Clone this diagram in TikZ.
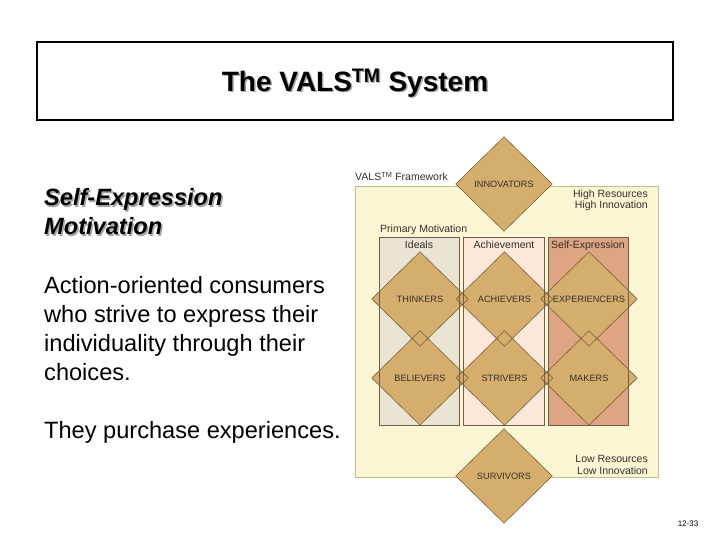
\documentclass[tikz,border=0pt]{standalone}
\usepackage{fontspec}
\setmainfont{Liberation Sans}
\usetikzlibrary{shapes.geometric,positioning}

\definecolor{cream}{HTML}{FAF6D3}
\definecolor{creamline}{HTML}{C9BA8C}
\definecolor{ideals}{HTML}{E9E5D2}
\definecolor{achieve}{HTML}{FCE7D9}
\definecolor{selfexp}{HTML}{DEA583}
\definecolor{colline}{HTML}{6E5D4A}
\definecolor{dfill}{HTML}{D5AE6E}
\definecolor{dline}{HTML}{7A5C34}
\definecolor{ftext}{HTML}{35302A}

\begin{document}
\begin{tikzpicture}[
    x=1pt, y=-1pt,
    titlebox/.style = {draw, line width=2.5pt, minimum width=636pt,
                       minimum height=78pt, inner sep=0pt},
    ttl/.style      = {font=\bfseries\fontsize{28}{30}\selectfont},
    bodytxt/.style  = {align=left, inner sep=0pt, anchor=base west,
                       font=\fontsize{23.6}{29}\selectfont},
    shadow/.style   = {text=black!35},
    small/.style    = {font=\fontsize{10.5}{12}\selectfont, text=ftext, inner sep=0pt},
    column/.style   = {draw=colline, line width=0.5pt},
    seg/.style      = {diamond, aspect=1, minimum width=96pt, minimum height=94pt,
                       inner sep=0pt, fill=dfill, text=ftext,
                       font=\fontsize{9.2}{11}\selectfont},
    segline/.style  = {draw=dline, line width=0.6pt, line join=miter}
  ]
  \useasboundingbox (0,0) rectangle (720,540);

  %–––– title ––––
  \node[titlebox] (TB) at (355,81) {};
  \node[ttl,shadow] (TTs) at (356.5,84.5) {The VALS\textsuperscript{TM} System};
  \node[ttl] (TT) at (355,83) {The VALS\textsuperscript{TM} System};

  %–––– left text (base = last line) ––––
  \node[bodytxt,shadow,font=\bfseries\itshape\fontsize{23.6}{29}\selectfont]
       (HDs) at (45.5,236.5) {Self-Expression\\Motivation};
  \node[bodytxt,font=\bfseries\itshape\fontsize{23.6}{29}\selectfont]
       (HD) at (44,235) {Self-Expression\\Motivation};
  \node[bodytxt] (BD) at (44,438)
       {Action-oriented consumers\\who strive to express their\\individuality through their\\choices.\\[29pt]They purchase experiences.};

  %–––– framework background ––––
  \fill[cream] (355,186) rectangle (658,477);
  \draw[creamline, line width=0.5pt] (355,186) rectangle (658,477);
  \fill[ideals]  (379,237) rectangle (459,425);
  \fill[achieve] (463,237) rectangle (544,425);
  \fill[selfexp] (548,237) rectangle (628,425);

  \node[small,anchor=base west] (FW) at (355,181) {VALS\textsuperscript{TM} Framework};
  \node[small,anchor=base west] (PM) at (380,233) {Primary Motivation};
  \node[small,anchor=base east] (HR) at (648,198) {High Resources};
  \node[small,anchor=base east] (HI) at (648,209) {High Innovation};
  \node[small,anchor=base east] (LR) at (648,462) {Low Resources};
  \node[small,anchor=base east] (LI) at (648,474) {Low Innovation};

  % column headers
  \node[small,anchor=base] (IDL) at (419,248.5) {Ideals};
  \node[small,anchor=base] (ACH) at (504,248.5) {Achievement};
  \node[small,anchor=base] (SLF) at (588,248.5) {Self-Expression};

  %–––– segments ––––
  \node[seg] (INN) at (504,184) {INNOVATORS};
  \node[seg] (THI) at (420,299) {THINKERS};
  \node[seg] (ACV) at (504.5,299) {ACHIEVERS};
  \node[seg] (EXP) at (589,299) {EXPERIENCERS};
  \node[seg] (BEL) at (420,378) {BELIEVERS};
  \node[seg] (STR) at (504.5,378) {STRIVERS};
  \node[seg] (MAK) at (589,378) {MAKERS};
  \node[seg] (SUR) at (504,476) {SURVIVORS};

  % column outlines over the fills
  \draw[column] (379,237) rectangle (459,425);
  \draw[column] (463,237) rectangle (544,425);
  \draw[column] (548,237) rectangle (628,425);

  % segment outlines (overlaps show as small diamonds)
  \foreach \n in {INN,THI,ACV,EXP,BEL,STR,MAK,SUR} {
    \draw[segline] (\n.north) -- (\n.east) -- (\n.south) -- (\n.west) -- cycle;
  }

  %–––– page number ––––
  \node[font=\fontsize{8}{9}\selectfont, inner sep=0pt] (PG) at (688,524) {12-33};
\end{tikzpicture}
\end{document}
